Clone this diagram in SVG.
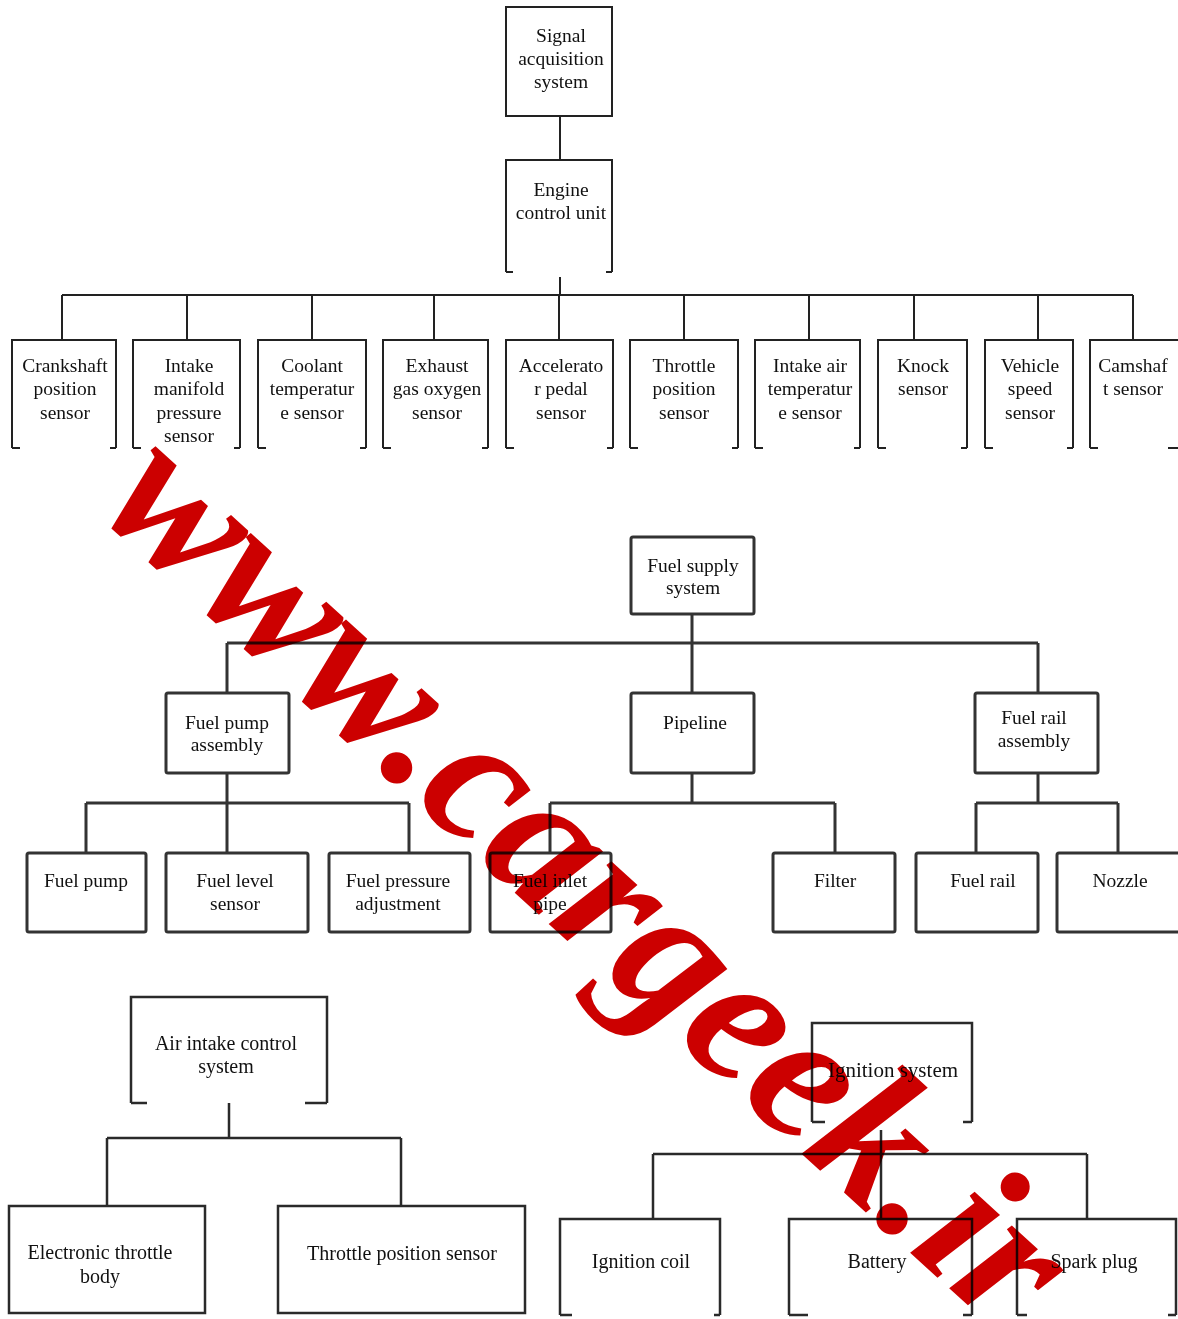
<svg xmlns="http://www.w3.org/2000/svg" width="1178" height="1319" viewBox="0 0 1178 1319">
<style>
.t{font-family:"Liberation Serif","Times New Roman",serif;font-size:19.5px;fill:#111;text-anchor:middle}
.b1{fill:none;stroke:#222;stroke-width:2}
.b2{fill:none;stroke:#333;stroke-width:3;stroke-linejoin:round}
.b3{fill:none;stroke:#2a2a2a;stroke-width:2.5}
.c1{fill:none;stroke:#222;stroke-width:2}
.c2{fill:none;stroke:#333;stroke-width:3}
.c3{fill:none;stroke:#2a2a2a;stroke-width:2.5}
.wm{font-family:"Liberation Serif","Times New Roman",serif;font-weight:bold;font-style:italic;font-size:193px;fill:#cc0000;mix-blend-mode:multiply}
</style>
<rect width="1178" height="1319" fill="#fff"/>

<g id="connectors">
  <path class="c1" d="M560 116V160M560 277V295M62 295H1133M62 295V340M187 295V340M312 295V340M434 295V340M559 295V340M684 295V340M809 295V340M914 295V340M1038 295V340M1133 295V340"/>
  <path class="c2" d="M692 614V643M227 643H1038M227 643V693M692 643V693M1038 643V693M227 773V853M86 803H409M86 803V853M409 803V853M692 773V803M550 803H835M550 803V853M835 803V853M1038 773V803M976 803H1118M976 803V853M1118 803V853"/>
  <path class="c3" d="M229 1103V1138M107 1138H401M107 1138V1206M401 1138V1206M881 1130V1154M653 1154H1087M653 1154V1219M881 1154V1219M1087 1154V1219"/>
</g>

<g id="n-signal"><rect class="b1" x="506" y="7" width="106" height="109"/>
<text class="t" x="561" y="42">Signal</text><text class="t" x="561" y="65">acquisition</text><text class="t" x="561" y="88">system</text></g>
<g id="n-ecu"><path class="b1" d="M506 272V160H612V272M506 272H513M612 272H606"/>
<text class="t" x="561" y="196">Engine</text><text class="t" x="561" y="219">control unit</text></g>

<g id="n-crank"><path class="b1" d="M12 448V340H116V448M12 448H20M116 448H110"/>
<text class="t" x="65" y="372">Crankshaft</text><text class="t" x="65" y="395">position</text><text class="t" x="65" y="419">sensor</text></g>
<g id="n-map"><path class="b1" d="M133 448V340H240V448M133 448H141M240 448H234"/>
<text class="t" x="189" y="372">Intake</text><text class="t" x="189" y="395">manifold</text><text class="t" x="189" y="419">pressure</text><text class="t" x="189" y="442">sensor</text></g>
<g id="n-coolant"><path class="b1" d="M258 448V340H366V448M258 448H266M366 448H360"/>
<text class="t" x="312" y="372">Coolant</text><text class="t" x="312" y="395">temperatur</text><text class="t" x="312" y="419">e sensor</text></g>
<g id="n-o2"><path class="b1" d="M383 448V340H488V448M383 448H391M488 448H482"/>
<text class="t" x="437" y="372">Exhaust</text><text class="t" x="437" y="395">gas oxygen</text><text class="t" x="437" y="419">sensor</text></g>
<g id="n-app"><path class="b1" d="M506 448V340H613V448M506 448H514M613 448H607"/>
<text class="t" x="561" y="372">Accelerato</text><text class="t" x="561" y="395">r pedal</text><text class="t" x="561" y="419">sensor</text></g>
<g id="n-tps"><path class="b1" d="M630 448V340H738V448M630 448H638M738 448H732"/>
<text class="t" x="684" y="372">Throttle</text><text class="t" x="684" y="395">position</text><text class="t" x="684" y="419">sensor</text></g>
<g id="n-iat"><path class="b1" d="M755 448V340H860V448M755 448H763M860 448H854"/>
<text class="t" x="810" y="372">Intake air</text><text class="t" x="810" y="395">temperatur</text><text class="t" x="810" y="419">e sensor</text></g>
<g id="n-knock"><path class="b1" d="M878 448V340H967V448M878 448H886M967 448H961"/>
<text class="t" x="923" y="372">Knock</text><text class="t" x="923" y="395">sensor</text></g>
<g id="n-vss"><path class="b1" d="M985 448V340H1073V448M985 448H993M1073 448H1067"/>
<text class="t" x="1030" y="372">Vehicle</text><text class="t" x="1030" y="395">speed</text><text class="t" x="1030" y="419">sensor</text></g>
<g id="n-cam"><path class="b1" d="M1090 448V340H1182M1090 448H1098M1178 448H1168"/>
<text class="t" x="1133" y="372">Camshaf</text><text class="t" x="1133" y="395">t sensor</text></g>

<g id="n-fuel"><rect class="b2" x="631" y="537" width="123" height="77" rx="2"/>
<text class="t" x="693" y="572">Fuel supply</text><text class="t" x="693" y="594">system</text></g>
<g id="n-fpa"><rect class="b2" x="166" y="693" width="123" height="80" rx="2"/>
<text class="t" x="227" y="729">Fuel pump</text><text class="t" x="227" y="751">assembly</text></g>
<g id="n-pipe"><rect class="b2" x="631" y="693" width="123" height="80" rx="2"/>
<text class="t" x="695" y="729">Pipeline</text></g>
<g id="n-fra"><rect class="b2" x="975" y="693" width="123" height="80" rx="2"/>
<text class="t" x="1034" y="724">Fuel rail</text><text class="t" x="1034" y="747">assembly</text></g>
<g id="n-pump"><rect class="b2" x="27" y="853" width="119" height="79" rx="2"/>
<text class="t" x="86" y="887">Fuel pump</text></g>
<g id="n-level"><rect class="b2" x="166" y="853" width="142" height="79" rx="2"/>
<text class="t" x="235" y="887">Fuel level</text><text class="t" x="235" y="910">sensor</text></g>
<g id="n-press"><rect class="b2" x="329" y="853" width="141" height="79" rx="2"/>
<text class="t" x="398" y="887">Fuel pressure</text><text class="t" x="398" y="910">adjustment</text></g>
<g id="n-inlet"><rect class="b2" x="490" y="853" width="121" height="79" rx="2"/>
<text class="t" x="550" y="887">Fuel inlet</text><text class="t" x="550" y="910">pipe</text></g>
<g id="n-filter"><rect class="b2" x="773" y="853" width="122" height="79" rx="2"/>
<text class="t" x="835" y="887">Filter</text></g>
<g id="n-rail"><rect class="b2" x="916" y="853" width="122" height="79" rx="2"/>
<text class="t" x="983" y="887">Fuel rail</text></g>
<g id="n-nozzle"><rect class="b2" x="1057" y="853" width="124" height="79" rx="2"/>
<text class="t" x="1120" y="887">Nozzle</text></g>

<g id="n-air"><path class="b3" d="M131 1103V997H327V1103M131 1103H147M327 1103H305"/>
<text class="t" x="226" y="1050" style="font-size:20px">Air intake control</text><text class="t" x="226" y="1073" style="font-size:20px">system</text></g>
<g id="n-etb"><rect class="b3" x="9" y="1206" width="196" height="107"/>
<text class="t" x="100" y="1259" style="font-size:20px">Electronic throttle</text><text class="t" x="100" y="1283" style="font-size:20px">body</text></g>
<g id="n-tps2"><rect class="b3" x="278" y="1206" width="247" height="107"/>
<text class="t" x="402" y="1260" style="font-size:20px">Throttle position sensor</text></g>

<g id="n-ign"><path class="b3" d="M812 1122V1023H972V1122M812 1122H825M972 1122H963"/>
<text class="t" x="893" y="1077" style="font-size:21px">Ignition system</text></g>
<g id="n-coil"><path class="b3" d="M560 1315V1219H720V1315M560 1315H572M720 1315H714"/>
<text class="t" x="641" y="1268" style="font-size:20px">Ignition coil</text></g>
<g id="n-batt"><path class="b3" d="M789 1315V1219H972V1315M789 1315H808M972 1315H963"/>
<text class="t" x="877" y="1268" style="font-size:20px">Battery</text></g>
<g id="n-spark"><path class="b3" d="M1017 1315V1219H1176V1315M1017 1315H1027M1176 1315H1168"/>
<text class="t" x="1094" y="1268" style="font-size:20px">Spark plug</text></g>

<text class="wm" x="95" y="511" transform="rotate(42.3 95 511)">www.cargeek.ir</text>
</svg>
